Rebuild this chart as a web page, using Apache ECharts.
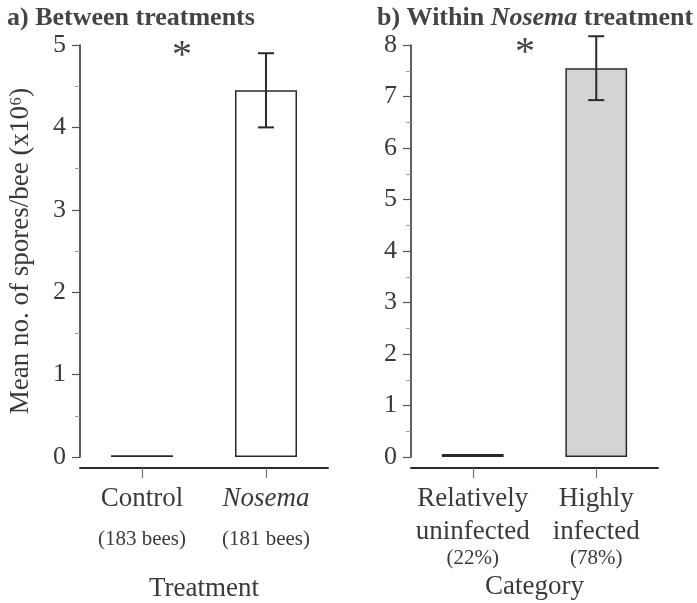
<!DOCTYPE html>
<html>
<head>
<meta charset="utf-8">
<script src="https://cdn.jsdelivr.net/npm/echarts@6/dist/echarts.min.js"></script>
<style>html,body{margin:0;padding:0;background:#fff}#c{width:697px;height:603px}</style>
</head>
<body>
<div id="c"></div>
<script>
// ---- data ----
const catsA = ['Control', 'Nosema'];
const subA = ['(183 bees)', '(181 bees)'];
const meanA = [0.02, 4.45];
const errA = [null, [4.0, 4.9]];
const ticksA = { min: 0, max: 5, interval: 1 };

const catsB = ['Relatively\nuninfected', 'Highly\ninfected'];
const subB = ['(22%)', '(78%)'];
const meanB = [0.06, 7.55];
const errB = [null, [6.93, 8.17]];
const ticksB = { min: 0, max: 8, interval: 1 };

const FONT = '"Liberation Serif", "Times New Roman", serif';
const TXT = '#3a3a3a';
const LINE = '#2a2a2a';

const chart = echarts.init(document.getElementById('c'));

function errData(err) {
  const out = [];
  err.forEach((e, i) => { if (e) out.push([i, e[0], e[1]]); });
  return out;
}
function errRender(params, api) {
  const x = api.value(0), lo = api.value(1), hi = api.value(2);
  const t = api.coord([x, hi]), b = api.coord([x, lo]);
  const hw = 8;
  const st = { stroke: LINE, lineWidth: 2 };
  return {
    type: 'group',
    children: [
      { type: 'line', shape: { x1: t[0], y1: t[1], x2: b[0], y2: b[1] }, style: st },
      { type: 'line', shape: { x1: t[0] - hw, y1: t[1], x2: t[0] + hw, y2: t[1] }, style: st },
      { type: 'line', shape: { x1: b[0] - hw, y1: b[1], x2: b[0] + hw, y2: b[1] }, style: st }
    ]
  };
}
function yAxis(idx, t, showName) {
  return {
    type: 'value', gridIndex: idx, min: t.min, max: t.max, interval: t.interval,
    name: showName ? 'Mean no. of spores/bee (x10\u2076)' : '',
    nameLocation: 'middle', nameGap: 46,
    nameTextStyle: { fontFamily: FONT, fontSize: 27, color: TXT },
    axisLine: { show: true, lineStyle: { color: LINE, width: 1.5 } },
    axisTick: { show: true, length: 8, lineStyle: { color: '#555', width: 1.2 } },
    minorTick: { show: true, splitNumber: 2, length: 5, lineStyle: { color: '#999', width: 1 } },
    splitLine: { show: false },
    axisLabel: { fontFamily: FONT, fontSize: 26, color: TXT, margin: 14 }
  };
}
function xAxis(idx, cats, name, nameGap, rich, fmt) {
  return {
    type: 'category', gridIndex: idx, data: cats, position: 'bottom', offset: 11,
    name: name, nameLocation: 'middle', nameGap: nameGap,
    nameTextStyle: { fontFamily: FONT, fontSize: 27, color: TXT },
    axisLine: { show: true, onZero: false, lineStyle: { color: LINE, width: 2 } },
    axisTick: { show: true, alignWithLabel: true, length: 10, lineStyle: { color: '#777', width: 1.2 } },
    axisLabel: { margin: 16, interval: 0, formatter: fmt, rich: rich }
  };
}

const richA = {
  n: { fontFamily: FONT, fontSize: 27, color: TXT, lineHeight: 30 },
  i: { fontFamily: FONT, fontSize: 27, color: TXT, lineHeight: 30, fontStyle: 'italic' },
  s: { fontFamily: FONT, fontSize: 21, color: TXT, lineHeight: 50 }
};
const richB = {
  n: { fontFamily: FONT, fontSize: 27, color: TXT, lineHeight: 30 },
  m: { fontFamily: FONT, fontSize: 27, color: TXT, lineHeight: 36 },
  s: { fontFamily: FONT, fontSize: 21, color: TXT, lineHeight: 16 }
};
const fmtA = (v, i) => (i === 1 ? '{i|' + v + '}' : '{n|' + v + '}') + '\n{s|' + subA[i] + '}';
const fmtB = (v, i) => {
  const p = v.split('\n');
  return '{n|' + p[0] + '}\n{m|' + p[1] + '}\n{s|' + subB[i] + '}';
};

const barBorder = { borderColor: LINE, borderWidth: 1.5 };
const dataA = meanA.map(v => ({ value: v, itemStyle: Object.assign({ color: '#ffffff' }, barBorder) }));
const fillB = ['#111111', '#d4d4d4'];
const dataB = meanB.map((v, i) => ({ value: v, itemStyle: Object.assign({ color: fillB[i] }, barBorder) }));

chart.setOption({
  animation: false,
  backgroundColor: '#ffffff',
  title: [
    { text: 'a) Between treatments', left: 2, top: 0,
      textStyle: { fontFamily: FONT, fontSize: 26, fontWeight: 'bold', color: '#444' } },
    { text: '{b|b) Within }{bi|Nosema}{b| treatment}', left: 372, top: 0,
      textStyle: { rich: {
        b: { fontFamily: FONT, fontSize: 26, fontWeight: 'bold', color: '#444' },
        bi: { fontFamily: FONT, fontSize: 26, fontWeight: 'bold', fontStyle: 'italic', color: '#444' }
      } } }
  ],
  grid: [
    { left: 80, right: 369, top: 45, bottom: 146, containLabel: false, outerBoundsMode: 'none' },
    { left: 411, right: 39, top: 45, bottom: 146, containLabel: false, outerBoundsMode: 'none' }
  ],
  xAxis: [
    xAxis(0, catsA, 'Treatment', 107, richA, fmtA),
    xAxis(1, catsB, 'Category', 102, richB, fmtB)
  ],
  yAxis: [yAxis(0, ticksA, true), yAxis(1, ticksB, false)],
  series: [
    { type: 'bar', xAxisIndex: 0, yAxisIndex: 0, data: dataA, barWidth: '50%' },
    { type: 'bar', xAxisIndex: 1, yAxisIndex: 1, data: dataB, barWidth: '50%' },
    { type: 'custom', xAxisIndex: 0, yAxisIndex: 0, data: errData(errA), renderItem: errRender, encode: { x: 0, y: [1, 2] }, z: 5 },
    { type: 'custom', xAxisIndex: 1, yAxisIndex: 1, data: errData(errB), renderItem: errRender, encode: { x: 0, y: [1, 2] }, z: 5 }
  ],
  graphic: [
    { type: 'text', left: 172, top: 36, style: { text: '*', fontFamily: FONT, fontSize: 40, fill: '#444' } },
    { type: 'text', left: 515, top: 33, style: { text: '*', fontFamily: FONT, fontSize: 40, fill: '#444' } }
  ]
});
</script>
</body>
</html>
